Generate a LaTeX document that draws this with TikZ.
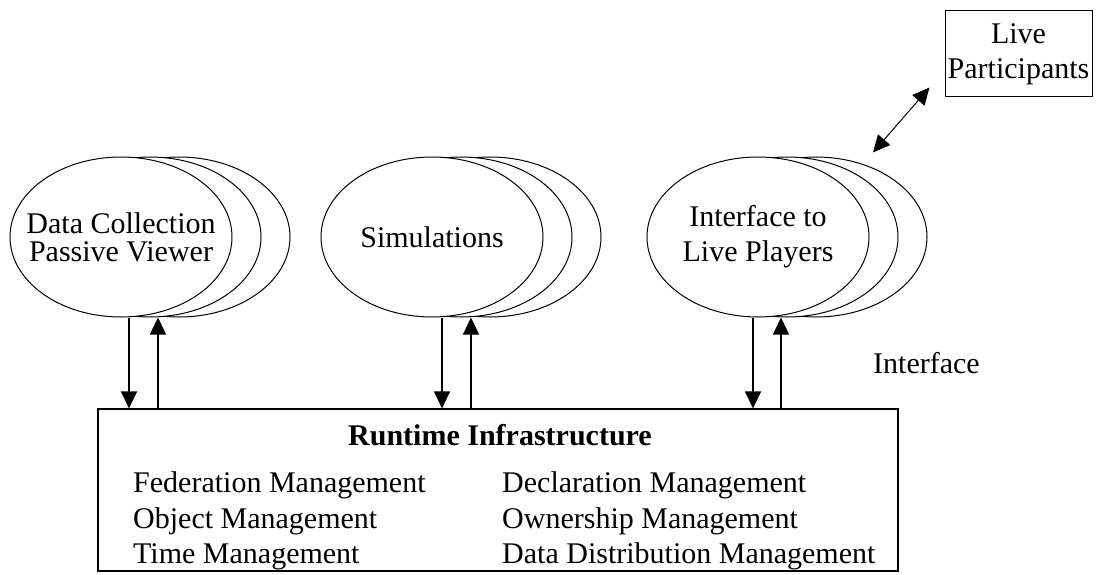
\documentclass[tikz,border=0pt]{standalone}
\usepackage{fontspec}
\setmainfont{Liberation Serif}
\usetikzlibrary{shapes.geometric,arrows.meta}

\begin{document}
\begin{tikzpicture}[x=1pt,y=-1pt,
	font=\fontsize{30}{30}\selectfont,
	fed/.style={draw, ellipse, fill=white, line width=1pt,
		minimum width=222pt, minimum height=160pt, inner sep=0pt, align=center},
	item/.style={anchor=base west, inner sep=0pt},
	arr/.style={line width=1.3pt, -{Triangle[width=16pt,length=17pt]}}]
	
	\useasboundingbox (0,0) rectangle (1100,575);
	
	% federates, back copies first
	\node [fed] (DC3) at (179,237){};
	\node [fed] (DC2) at (150,237){};
	\node [fed] (DC) at (121,237){};
	\node [align=center, font=\fontsize{30}{28}\selectfont] (DCtxt) at (DC.center){Data Collection\\Passive Viewer};
	
	\node [fed] (SIM3) at (490,237){};
	\node [fed] (SIM2) at (461,237){};
	\node [fed] (SIM) at (432,237){Simulations};
	
	\node [fed] (IP3) at (816,237){};
	\node [fed] (IP2) at (787,237){};
	\node [fed] (IP) at (758,237){};
	\node [align=center, font=\fontsize{30}{35}\selectfont] (IPtxt) at (IP.center){Interface to\\Live Players};
	
	\node [draw, line width=1pt,
		   minimum width=147pt,
		   minimum height=86pt,
		   inner sep=0pt,
		   align=center,
		   font=\fontsize{30}{35}\selectfont] (LP) at (1018.5,54){Live\\Participants};
	
	% runtime infrastructure
	\node [draw, line width=1.2pt,
		   minimum width=800pt,
		   minimum height=162pt] (RTI) at (498,490){};
	\node [anchor=base, inner sep=0pt, font=\fontsize{30}{30}\bfseries] (title) at (500,445){Runtime Infrastructure};
	\node [item] (fm) at (133,492){Federation Management};
	\node [item] (om) at (133,528){Object Management};
	\node [item] (tm) at (133,563){Time Management};
	\node [item] (dm) at (502,492){Declaration Management};
	\node [item] (owm) at (502,528){Ownership Management};
	\node [item] (ddm) at (502,563){Data Distribution Management};
	
	\node [item] (iface) at (873,373){Interface};
	
	\draw[arr] ([xshift=8pt]DC.south) -- ([xshift=8pt]DC.south |- RTI.north);
	\draw[arr] ([xshift=37pt]DC.south |- RTI.north) -- ([xshift=37pt]DC.south |- DC2.south);
	\draw[arr] ([xshift=10pt]SIM.south) -- ([xshift=10pt]SIM.south |- RTI.north);
	\draw[arr] ([xshift=39pt]SIM.south |- RTI.north) -- ([xshift=39pt]SIM.south |- SIM2.south);
	\draw[arr] ([xshift=-5pt]IP.south) -- ([xshift=-5pt]IP.south |- RTI.north);
	\draw[arr] ([xshift=23pt]IP.south |- RTI.north) -- ([xshift=23pt]IP.south |- IP2.south);
	
	\draw[line width=1pt, {Triangle[width=16pt,length=17pt]}-{Triangle[width=16pt,length=17pt]}]
		([xshift=57pt,yshift=4pt]IP3.north) -- ([xshift=-15pt,yshift=10pt]LP.south west);
	
\end{tikzpicture}
\end{document}
